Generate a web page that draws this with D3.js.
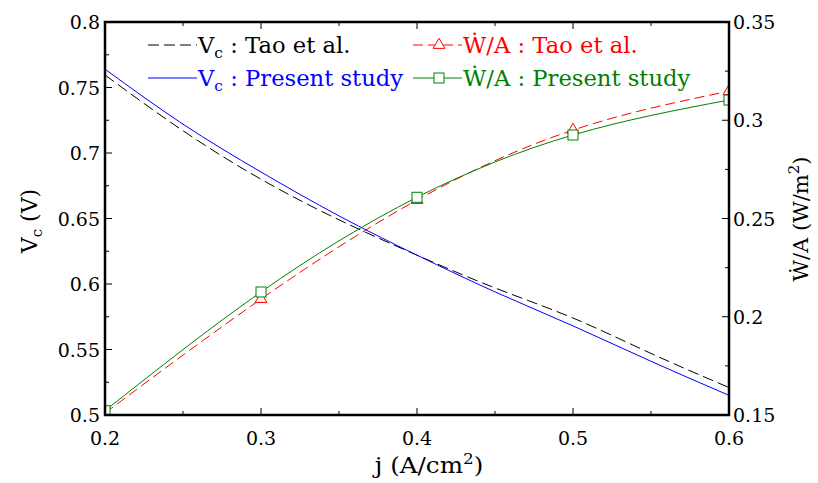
<!DOCTYPE html>
<html>
<head>
<meta charset="utf-8">
<script src="https://cdn.jsdelivr.net/npm/d3@7"></script>
<style>
  body { margin: 0; background: #fff; }
  text { font-family: "DejaVu Serif", serif; }
</style>
</head>
<body>
<svg id="svg" width="818" height="483"></svg>
<script>
// data
const jVc = [0.2, 0.25, 0.3, 0.35, 0.4, 0.45, 0.5, 0.55, 0.6];
const vcTao = [0.7595, 0.717, 0.680, 0.649, 0.622, 0.597, 0.574, 0.547, 0.521];
const vcPresent = [0.764, 0.722, 0.6855, 0.652, 0.622, 0.594, 0.568, 0.541, 0.515];

const jW = [0.2, 0.3, 0.4, 0.5, 0.6];
const wTao = [0.151, 0.209, 0.2594, 0.295, 0.3148];
const wPresent = [0.1522, 0.2126, 0.2608, 0.2925, 0.3103];

const xTicks = [0.2, 0.3, 0.4, 0.5, 0.6];
const yLeftTicks = [0.5, 0.55, 0.6, 0.65, 0.7, 0.75, 0.8];
const yRightTicks = [0.15, 0.2, 0.25, 0.3, 0.35];

const svg = d3.select('#svg');
const pLeft = 105, pRight = 729, pTop = 22, pBottom = 415;

const x = d3.scaleLinear().domain([0.2, 0.6]).range([pLeft, pRight]);
const yL = d3.scaleLinear().domain([0.5, 0.8]).range([pBottom, pTop]);
const yR = d3.scaleLinear().domain([0.15, 0.35]).range([pBottom, pTop]);

// text placed in a (slightly widened) group
function label(tx, ty, anchor, size, color, rot, sx) {
    return svg.append('g')
        .attr('transform', `translate(${tx},${ty})` + (rot ? ` rotate(${rot})` : '') + ` scale(${sx || 1},1)`)
        .append('text')
        .attr('text-anchor', anchor)
        .attr('fill', color || 'black')
        .style('font-size', size + 'px');
}

svg.append('defs').append('clipPath').attr('id', 'clip')
    .append('rect')
    .attr('x', pLeft).attr('y', pTop)
    .attr('width', pRight - pLeft).attr('height', pBottom - pTop);

const minor = (a, b, step) => d3.range(a, b + 1e-9, step);

// ticks, inward on all four sides
const tickG = svg.append('g').attr('stroke', 'black').attr('stroke-width', 1);
minor(0.2, 0.6, 0.05).forEach((v, i) => {
    const len = i % 2 === 0 ? 7 : 4;
    tickG.append('line').attr('x1', x(v)).attr('x2', x(v)).attr('y1', pBottom).attr('y2', pBottom - len);
    tickG.append('line').attr('x1', x(v)).attr('x2', x(v)).attr('y1', pTop).attr('y2', pTop + len);
});
minor(0.5, 0.8, 0.025).forEach((v, i) => {
    const len = i % 2 === 0 ? 7 : 4;
    tickG.append('line').attr('y1', yL(v)).attr('y2', yL(v)).attr('x1', pLeft).attr('x2', pLeft + len);
});
minor(0.15, 0.35, 0.025).forEach((v, i) => {
    const len = i % 2 === 0 ? 7 : 4;
    tickG.append('line').attr('y1', yR(v)).attr('y2', yR(v)).attr('x1', pRight).attr('x2', pRight - len);
});

// tick labels
xTicks.forEach(d => label(x(d), 445, 'middle', 19).text(d3.format('.1f')(d)));
yLeftTicks.forEach(d => label(100, yL(d) + 7, 'end', 19).text(String(+d.toFixed(2))));
yRightTicks.forEach(d => label(733, yR(d) + 7, 'start', 19).text(String(+d.toFixed(2))));

// curves
const plot = svg.append('g').attr('clip-path', 'url(#clip)');
const lineL = d3.line().x(d => x(d[0])).y(d => yL(d[1])).curve(d3.curveNatural);
const lineR = d3.line().x(d => x(d[0])).y(d => yR(d[1])).curve(d3.curveNatural);

plot.append('path').datum(d3.zip(jVc, vcTao))
    .attr('d', lineL).attr('fill', 'none').attr('stroke', 'black')
    .attr('stroke-width', 1).attr('stroke-dasharray', '11,5');
plot.append('path').datum(d3.zip(jVc, vcPresent))
    .attr('d', lineL).attr('fill', 'none').attr('stroke', 'blue').attr('stroke-width', 1);
plot.append('path').datum(d3.zip(jW, wTao))
    .attr('d', lineR).attr('fill', 'none').attr('stroke', 'red')
    .attr('stroke-width', 1).attr('stroke-dasharray', '10,5');
plot.append('path').datum(d3.zip(jW, wPresent))
    .attr('d', lineR).attr('fill', 'none').attr('stroke', 'green').attr('stroke-width', 1);

const tri = d3.symbol().type(d3.symbolTriangle).size(60);
plot.selectAll('.tri').data(d3.zip(jW, wTao)).join('path')
    .attr('d', tri)
    .attr('transform', d => `translate(${x(d[0])},${yR(d[1])})`)
    .attr('fill', 'white').attr('stroke', 'red').attr('stroke-width', 1);
plot.selectAll('.sq').data(d3.zip(jW, wPresent)).join('rect')
    .attr('x', d => x(d[0]) - 5).attr('y', d => yR(d[1]) - 5)
    .attr('width', 10).attr('height', 10)
    .attr('fill', 'white').attr('stroke', 'green').attr('stroke-width', 1);

// frame
svg.append('rect')
    .attr('x', pLeft).attr('y', pTop)
    .attr('width', pRight - pLeft).attr('height', pBottom - pTop)
    .attr('fill', 'none').attr('stroke', 'black').attr('stroke-width', 2.5);

// legend
const legend = [
    { x: 148, y: 45, color: 'black', dash: '11,5', mark: null, name: 'V', sub: 'c', rest: ' : Tao et al.' },
    { x: 148, y: 78, color: 'blue', dash: null, mark: null, name: 'V', sub: 'c', rest: ' : Present study' },
    { x: 413, y: 45, color: 'red', dash: '10,5', mark: 'tri', name: 'Ẇ/A', sub: null, rest: ' : Tao et al.' },
    { x: 413, y: 78, color: 'green', dash: null, mark: 'sq', name: 'Ẇ/A', sub: null, rest: ' : Present study' }
];
legend.forEach(e => {
    const g = svg.append('g');
    g.append('line').attr('x1', e.x).attr('x2', e.x + 49).attr('y1', e.y).attr('y2', e.y)
        .attr('stroke', e.color).attr('stroke-width', 1)
        .attr('stroke-dasharray', e.dash);
    const mx = e.x + 26;
    if (e.mark === 'tri') {
        g.append('path').attr('d', tri).attr('transform', `translate(${mx},${e.y})`)
            .attr('fill', 'white').attr('stroke', e.color);
    } else if (e.mark === 'sq') {
        g.append('rect').attr('x', mx - 5).attr('y', e.y - 5).attr('width', 10).attr('height', 10)
            .attr('fill', 'white').attr('stroke', e.color);
    }
    const t = label(e.x + 50, e.y + 8, 'start', 22, e.color, 0, 1.03);
    t.append('tspan').text(e.name);
    if (e.sub) t.append('tspan').attr('dy', 5).style('font-size', '15px').text(e.sub);
    t.append('tspan').attr('dy', e.sub ? -5 : 0).text(e.rest);
});

// axis titles
const xt = label(429, 473, 'middle', 22, 'black', 0, 1.12);
xt.append('tspan').text('j (A/cm');
xt.append('tspan').attr('dy', -9).style('font-size', '15px').text('2');
xt.append('tspan').attr('dy', 9).text(')');

const yl = label(37, 221, 'middle', 22, 'black', -90);
yl.append('tspan').text('V');
yl.append('tspan').attr('dy', 5).style('font-size', '15px').text('c');
yl.append('tspan').attr('dy', -5).text(' (V)');

const yr = label(808, 219, 'middle', 21, 'black', -90);
yr.append('tspan').text('Ẇ/A (W/m');
yr.append('tspan').attr('dy', -9).style('font-size', '15px').text('2');
yr.append('tspan').attr('dy', 9).text(')');
</script>
</body>
</html>
